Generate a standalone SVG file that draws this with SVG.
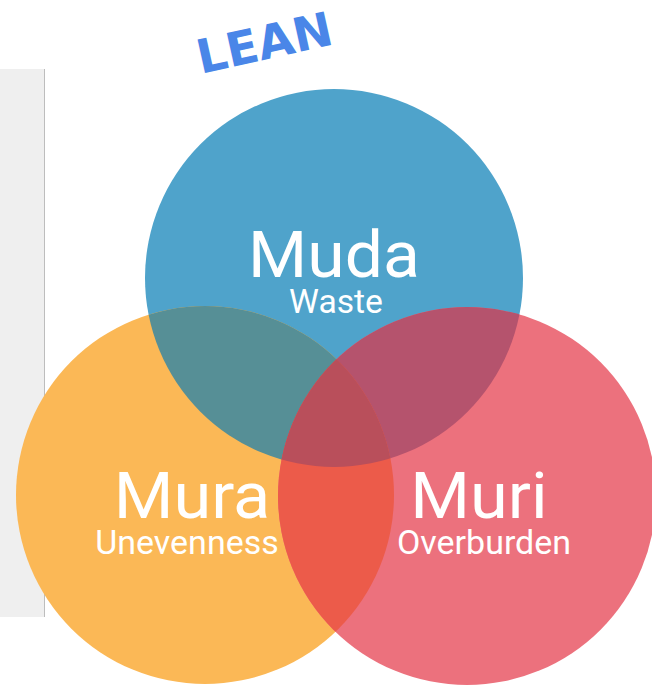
<svg xmlns="http://www.w3.org/2000/svg" width="652" height="685" viewBox="0 0 652 685">
  <style>
    .title { font-family: "DejaVu Sans", "Liberation Sans", sans-serif; font-weight: bold; font-size: 47px; fill: #4a86e8; }
    .big { font-family: Roboto, "Liberation Sans", sans-serif; font-size: 64px; fill: #ffffff; text-anchor: middle; }
    .small { font-family: Roboto, "Liberation Sans", sans-serif; font-size: 33px; fill: #ffffff; text-anchor: middle; }
  </style>
  <defs>
    <clipPath id="clipBlue"><circle cx="334" cy="278" r="189"/></clipPath>
    <clipPath id="clipOrange"><circle cx="205" cy="495" r="189"/></clipPath>
    <clipPath id="clipRed"><circle cx="467" cy="496" r="189"/></clipPath>
  </defs>
  <rect width="652" height="685" fill="#ffffff"/>
  <g id="panel">
    <rect x="0" y="69" width="44" height="548" fill="#efefef"/>
    <line x1="44.5" y1="69" x2="44.5" y2="617" stroke="#bdbdbd" stroke-width="1"/>
  </g>
  <g id="lean">
    <text class="title" transform="translate(268,59) rotate(-12.5)" text-anchor="middle">LEAN</text>
  </g>
  <g id="muda">
    <circle cx="334" cy="278" r="189" fill="#4fa3cb"/>
  </g>
  <g id="mura">
    <circle cx="205" cy="495" r="189" fill="#fbb856"/>
  </g>
  <g id="muri">
    <circle cx="467" cy="496" r="189" fill="#ec717d"/>
  </g>
  <g id="overlaps">
    <g clip-path="url(#clipBlue)">
      <circle cx="205" cy="495" r="189" fill="#568f96"/>
      <circle cx="467" cy="496" r="189" fill="#b5536d"/>
    </g>
    <g clip-path="url(#clipOrange)">
      <circle cx="467" cy="496" r="189" fill="#ec5b4a"/>
    </g>
    <g clip-path="url(#clipBlue)">
      <g clip-path="url(#clipOrange)">
        <circle cx="467" cy="496" r="189" fill="#b94f5b"/>
      </g>
    </g>
  </g>
  <g id="labels">
    <text class="big" transform="translate(334,277) scale(1.06,1)">Muda</text>
    <text class="small" transform="translate(336,313) scale(1.02,1)">Waste</text>
    <text class="big" transform="translate(192,518) scale(1.07,1)">Mura</text>
    <text class="small" transform="translate(187,554) scale(1.03,1)">Unevenness</text>
    <text class="big" transform="translate(479,518) scale(1.07,1)">Muri</text>
    <text class="small" transform="translate(484,554) scale(1.03,1)">Overburden</text>
  </g>
</svg>
